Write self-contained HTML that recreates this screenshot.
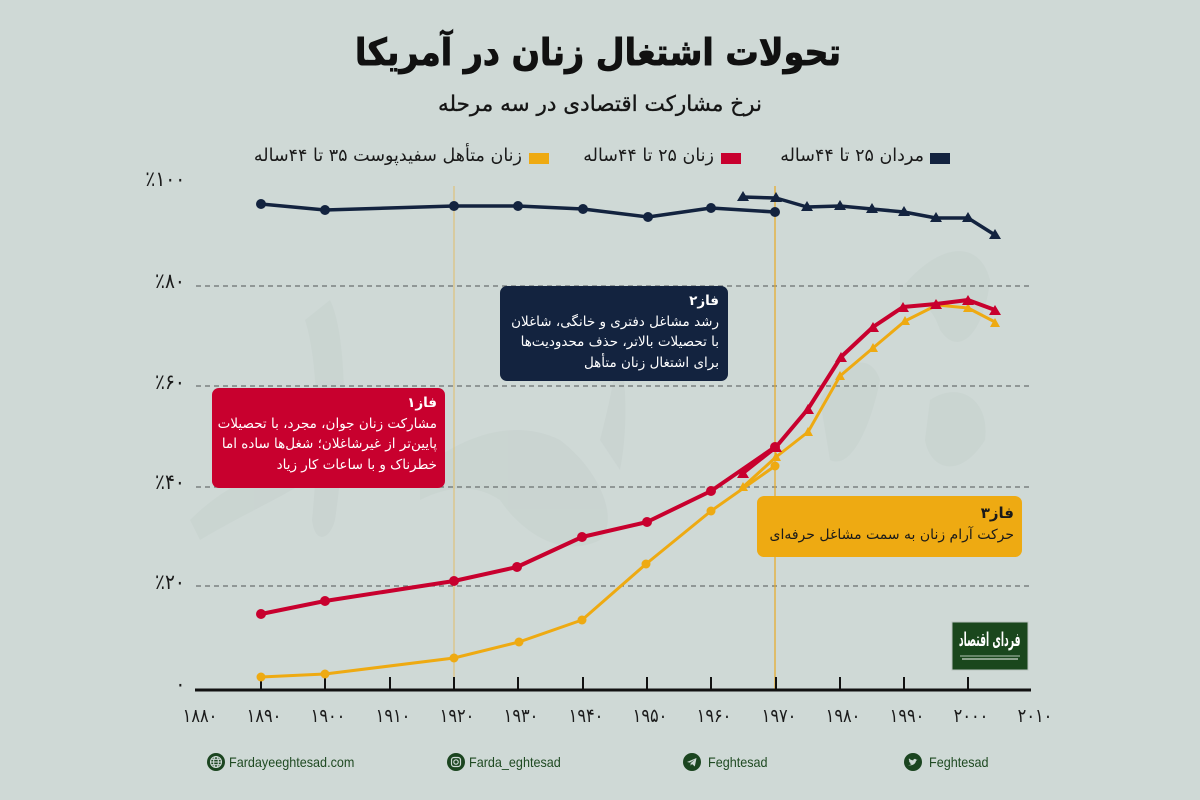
<!DOCTYPE html>
<html lang="fa">
<head>
<meta charset="utf-8">
<style>
  html, body { margin:0; padding:0; }
  body { width:1200px; height:800px; background:#cfd9d6; position:relative; overflow:hidden; font-family:"DejaVu Sans", sans-serif; }
  .abs { position:absolute; white-space:nowrap; }
  .fa { font-family:"DejaVu Sans", sans-serif; direction:rtl; }
  .title { left:0; width:1196px; text-align:center; top:31px; font-size:37px; font-weight:bold; color:#111; -webkit-text-stroke:0.9px #111; transform:scaleX(0.9); transform-origin:598px 0; }
  .sub { left:0; width:1200px; text-align:center; top:92px; font-size:21.5px; color:#151515; -webkit-text-stroke:0.35px #151515; }
  .leg { top:146px; font-size:17.5px; color:#1a1a1a; }
  .sq { position:absolute; width:20px; height:11px; top:153px; }
  .ylab { right:1015px; font-size:21px; color:#1a1a1a; direction:ltr; unicode-bidi:bidi-override; text-align:right; transform:scaleX(0.88); transform-origin:right center; }
  .xlab { width:60px; text-align:center; top:705px; font-size:19px; color:#1a1a1a; transform:scaleX(0.85); }
  .box { position:absolute; border-radius:7px; box-sizing:border-box; direction:rtl; text-align:right; font-family:"DejaVu Sans", sans-serif; white-space:nowrap; }
  .box .h { font-weight:bold; }
  .foot { top:754px; font-family:"Liberation Sans", sans-serif; font-size:14px; color:#1f4a22; transform:scaleX(0.9); transform-origin:left center; }
  .ic { position:absolute; width:18px; height:18px; border-radius:50%; background:#1b4520; top:753px; }
</style>
</head>
<body>

<svg class="abs" style="left:0;top:0" width="1200" height="800" viewBox="0 0 1200 800">
  <!-- faint watermark -->
  <g fill="#c7d1ce" opacity="0.55">
    <path d="M330 300 C345 330 350 420 335 520 C330 540 315 545 312 520 C320 440 318 360 305 320 Z"/>
    <path d="M420 470 C470 430 520 420 560 440 C600 470 620 520 600 540 C560 560 520 530 500 500 C470 480 440 490 420 500 Z"/>
    <path d="M190 520 C230 480 280 460 320 470 C300 490 250 510 200 540 Z"/>
    <path d="M900 290 C940 240 980 240 990 280 C985 330 960 360 940 330 C930 300 915 300 900 310 Z"/>
    <path d="M820 400 C840 360 870 350 880 380 C870 430 850 470 830 460 Z"/>
    <path d="M930 400 C960 380 990 400 985 440 C960 480 930 470 925 440 Z"/>
    <path d="M600 440 C610 400 620 360 615 330 C625 360 630 420 620 470 Z"/>
  </g>

  <!-- gridlines -->
  <g stroke="#6b706f" stroke-width="1.2" stroke-dasharray="5,4" fill="none">
    <line x1="196" y1="286" x2="1030" y2="286"/>
    <line x1="196" y1="386" x2="1030" y2="386"/>
    <line x1="196" y1="487" x2="1030" y2="487"/>
    <line x1="196" y1="586" x2="1030" y2="586"/>
  </g>

  <!-- vertical markers -->
  <line x1="454" y1="186" x2="454" y2="690" stroke="#e0bd6a" stroke-width="1"/>
  <line x1="775" y1="186" x2="775" y2="690" stroke="#e9aa22" stroke-width="1.2"/>

  <!-- axis -->
  <line x1="195" y1="690" x2="1031" y2="690" stroke="#111" stroke-width="3"/>
  <g stroke="#111" stroke-width="2">
    <line x1="261" y1="677" x2="261" y2="690"/>
    <line x1="325" y1="677" x2="325" y2="690"/>
    <line x1="390" y1="677" x2="390" y2="690"/>
    <line x1="454" y1="677" x2="454" y2="690"/>
    <line x1="518" y1="677" x2="518" y2="690"/>
    <line x1="583" y1="677" x2="583" y2="690"/>
    <line x1="647" y1="677" x2="647" y2="690"/>
    <line x1="711" y1="677" x2="711" y2="690"/>
    <line x1="776" y1="677" x2="776" y2="690"/>
    <line x1="840" y1="677" x2="840" y2="690"/>
    <line x1="904" y1="677" x2="904" y2="690"/>
    <line x1="968" y1="677" x2="968" y2="690"/>
  </g>

  <!-- yellow series -->
  <g stroke="#eeaa12" fill="none" stroke-width="3" stroke-linejoin="round">
    <polyline points="261,677 325,674 454,658 519,642 582,620 646,564 711,511 775,466"/>
    <polyline points="743,487 776,457 808,432 840,376 873,348 905,321 937,305 968,308 995,322"/>
  </g>
  <g fill="#eeaa12">
    <circle cx="261" cy="677" r="4.5"/><circle cx="325" cy="674" r="4.5"/><circle cx="454" cy="658" r="4.5"/>
    <circle cx="519" cy="642" r="4.5"/><circle cx="582" cy="620" r="4.5"/><circle cx="646" cy="564" r="4.5"/>
    <circle cx="711" cy="511" r="4.5"/><circle cx="775" cy="466" r="4.5"/>
    <path d="M738 491 L748 491 L743 482 Z"/><path d="M771 461 L781 461 L776 452 Z"/>
    <path d="M803 436 L813 436 L808 427 Z"/><path d="M835 380 L845 380 L840 371 Z"/>
    <path d="M868 352 L878 352 L873 343 Z"/><path d="M900 325 L910 325 L905 316 Z"/>
    <path d="M932 309 L942 309 L937 300 Z"/><path d="M963 312 L973 312 L968 303 Z"/>
    <path d="M990 327 L1000 327 L995 318 Z"/>
  </g>

  <!-- red series -->
  <g stroke="#c8002e" fill="none" stroke-width="4" stroke-linejoin="round">
    <polyline points="261,614 325,601 454,581 517,567 582,537 647,522 711,491 775,447"/>
    <polyline points="743,473 776,447 808,409 841,357 873,327 903,307 936,304 968,300 995,310"/>
  </g>
  <g fill="#c8002e">
    <circle cx="261" cy="614" r="5"/><circle cx="325" cy="601" r="5"/><circle cx="454" cy="581" r="5"/>
    <circle cx="517" cy="567" r="5"/><circle cx="582" cy="537" r="5"/><circle cx="647" cy="522" r="5"/>
    <circle cx="711" cy="491" r="5"/><circle cx="775" cy="447" r="5"/>
    <path d="M737 478 L749 478 L743 468 Z"/><path d="M770 452 L782 452 L776 442 Z"/>
    <path d="M802 414 L814 414 L808 404 Z"/><path d="M835 362 L847 362 L841 352 Z"/>
    <path d="M867 332 L879 332 L873 322 Z"/><path d="M897 312 L909 312 L903 302 Z"/>
    <path d="M930 309 L942 309 L936 299 Z"/><path d="M962 305 L974 305 L968 295 Z"/>
    <path d="M989 315 L1001 315 L995 305 Z"/>
  </g>

  <!-- men series -->
  <g stroke="#13233f" fill="none" stroke-width="3.5" stroke-linejoin="round">
    <polyline points="261,204 325,210 454,206 518,206 583,209 648,217 711,208 775,212"/>
    <polyline points="743,197 776,198 807,207 840,206 872,209 904,212 936,218 968,218 995,235"/>
  </g>
  <g fill="#13233f">
    <circle cx="261" cy="204" r="5"/><circle cx="325" cy="210" r="5"/><circle cx="454" cy="206" r="5"/>
    <circle cx="518" cy="206" r="5"/><circle cx="583" cy="209" r="5"/><circle cx="648" cy="217" r="5"/>
    <circle cx="711" cy="208" r="5"/><circle cx="775" cy="212" r="5"/>
    <path d="M737 201 L749 201 L743 191 Z"/><path d="M770 202 L782 202 L776 192 Z"/>
    <path d="M801 211 L813 211 L807 201 Z"/><path d="M834 210 L846 210 L840 200 Z"/>
    <path d="M866 213 L878 213 L872 203 Z"/><path d="M898 216 L910 216 L904 206 Z"/>
    <path d="M930 222 L942 222 L936 212 Z"/><path d="M962 222 L974 222 L968 212 Z"/>
    <path d="M989 239 L1001 239 L995 229 Z"/>
  </g>

  <!-- logo -->
  <rect x="952" y="622" width="76" height="48" fill="#1a471d" stroke="#b8c2bf" stroke-width="1"/>
  <line x1="960" y1="656" x2="1020" y2="656" stroke="#e8efe8" stroke-width="0.8"/>
  <line x1="962" y1="659" x2="1018" y2="659" stroke="#cfd9cf" stroke-width="1.2"/>
</svg>

<div class="abs fa title">تحولات اشتغال زنان در آمریکا</div>
<div class="abs fa sub">نرخ مشارکت اقتصادی در سه مرحله</div>

<!-- legend -->
<div class="sq" style="left:930px;background:#13233f"></div>
<div class="abs fa leg" style="right:276px">مردان ۲۵ تا ۴۴ساله</div>
<div class="sq" style="left:721px;background:#c8002e"></div>
<div class="abs fa leg" style="right:486px">زنان ۲۵ تا ۴۴ساله</div>
<div class="sq" style="left:529px;background:#eeaa12"></div>
<div class="abs fa leg" style="right:678px">زنان متأهل سفیدپوست ۳۵ تا ۴۴ساله</div>

<!-- y labels -->
<div class="abs ylab" style="top:167px">٪۱۰۰</div>
<div class="abs ylab" style="top:269px">٪۸۰</div>
<div class="abs ylab" style="top:370px">٪۶۰</div>
<div class="abs ylab" style="top:470px">٪۴۰</div>
<div class="abs ylab" style="top:570px">٪۲۰</div>
<div class="abs ylab" style="top:672px">۰</div>

<!-- x labels -->
<div class="abs xlab" style="left:170px">۱۸۸۰</div>
<div class="abs xlab" style="left:234px">۱۸۹۰</div>
<div class="abs xlab" style="left:298px">۱۹۰۰</div>
<div class="abs xlab" style="left:363px">۱۹۱۰</div>
<div class="abs xlab" style="left:427px">۱۹۲۰</div>
<div class="abs xlab" style="left:491px">۱۹۳۰</div>
<div class="abs xlab" style="left:556px">۱۹۴۰</div>
<div class="abs xlab" style="left:620px">۱۹۵۰</div>
<div class="abs xlab" style="left:684px">۱۹۶۰</div>
<div class="abs xlab" style="left:749px">۱۹۷۰</div>
<div class="abs xlab" style="left:813px">۱۹۸۰</div>
<div class="abs xlab" style="left:877px">۱۹۹۰</div>
<div class="abs xlab" style="left:941px">۲۰۰۰</div>
<div class="abs xlab" style="left:1005px">۲۰۱۰</div>

<!-- phase boxes -->
<div class="box" style="left:212px;top:388px;width:233px;height:100px;background:#c8002e;color:#fff;font-size:13.5px;line-height:20.7px;padding:5px 8px 0 4px;">
  <div class="h">فاز۱</div>
  <div>مشارکت زنان جوان، مجرد، با تحصیلات</div>
  <div>پایین‌تر از غیرشاغلان؛ شغل‌ها ساده اما</div>
  <div>خطرناک و با ساعات کار زیاد</div>
</div>
<div class="box" style="left:500px;top:286px;width:228px;height:95px;background:#13233f;color:#fff;font-size:13.5px;line-height:20.7px;padding:5px 9px 0 4px;">
  <div class="h">فاز۲</div>
  <div>رشد مشاغل دفتری و خانگی، شاغلان</div>
  <div>با تحصیلات بالاتر، حذف محدودیت‌ها</div>
  <div>برای اشتغال زنان متأهل</div>
</div>
<div class="box" style="left:757px;top:496px;width:265px;height:61px;background:#eeaa12;color:#1a1a1a;font-size:14px;line-height:22px;padding:6px 8px 0 2px;">
  <div class="h" style="font-size:15px">فاز۳</div>
  <div>حرکت آرام زنان به سمت مشاغل حرفه‌ای</div>
</div>

<!-- logo text -->
<div class="abs" style="left:890px;width:200px;top:627px;text-align:center;">
  <span class="fa" style="display:inline-block;color:#fff;font-weight:bold;font-size:14px;transform:scale(0.66,1.35);transform-origin:center top;">فردای اقتصاد</span>
</div>

<!-- footer -->
<div class="ic" style="left:207px"></div>
<svg class="abs" style="left:207px;top:753px" width="18" height="18" viewBox="0 0 18 18"><g fill="none" stroke="#cfd9d6" stroke-width="1.1"><circle cx="9" cy="9" r="5.5"/><ellipse cx="9" cy="9" rx="2.4" ry="5.5"/><line x1="3.5" y1="9" x2="14.5" y2="9"/><line x1="4.3" y1="6.3" x2="13.7" y2="6.3"/><line x1="4.3" y1="11.7" x2="13.7" y2="11.7"/></g></svg>
<div class="abs foot" style="left:229px">Fardayeeghtesad.com</div>

<div class="ic" style="left:447px"></div>
<svg class="abs" style="left:447px;top:753px" width="18" height="18" viewBox="0 0 18 18"><g fill="none" stroke="#cfd9d6" stroke-width="1.2"><rect x="4.5" y="4.5" width="9" height="9" rx="2.5"/><circle cx="9" cy="9" r="2.2"/></g></svg>
<div class="abs foot" style="left:469px">Farda_eghtesad</div>

<div class="ic" style="left:683px"></div>
<svg class="abs" style="left:683px;top:753px" width="18" height="18" viewBox="0 0 18 18"><path d="M4 9 L13.5 5 L11.8 13.5 L9 11 L7.6 12.6 L7.6 10.2 L12 6.5 L6.8 9.6 Z" fill="#cfd9d6"/></svg>
<div class="abs foot" style="left:708px">Feghtesad</div>

<div class="ic" style="left:904px"></div>
<svg class="abs" style="left:904px;top:753px" width="18" height="18" viewBox="0 0 18 18"><path d="M4 12 C7 13 11 12 12 8 L13.5 6.5 L12.2 6.7 C11.5 5.5 9.5 5.6 9.2 7.4 C7.4 7.3 6 6.5 5 5.4 C4.6 6.6 5 7.6 5.8 8.2 L5 8 C5.1 9 5.8 9.6 6.6 9.8 L5.8 9.9 C6.2 10.7 6.9 11 7.6 11 C6.6 11.8 5.4 12.1 4 12 Z" fill="#cfd9d6"/></svg>
<div class="abs foot" style="left:929px">Feghtesad</div>

</body>
</html>
